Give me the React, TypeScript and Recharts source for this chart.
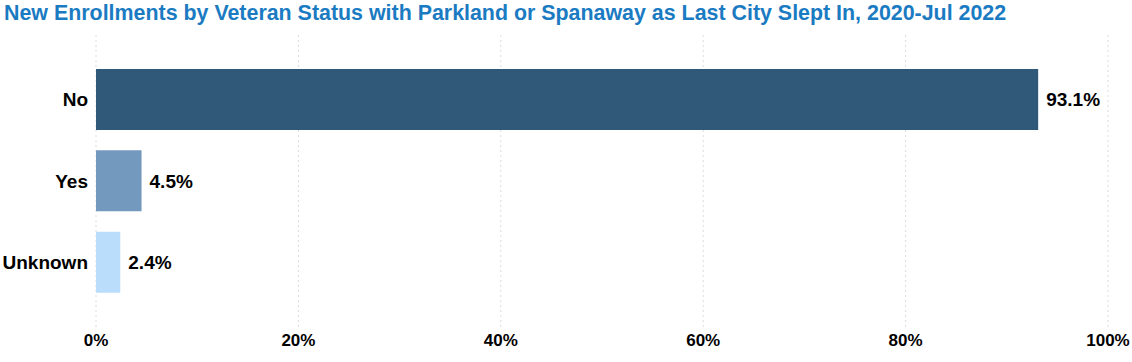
import React from 'react';
import { BarChart, Bar, XAxis, YAxis, CartesianGrid, Cell, LabelList } from 'recharts';

const categories = ['No', 'Yes', 'Unknown'];
const shares = [0.931, 0.045, 0.024];
const barColors = ['#305879', '#7399be', '#b9ddfb'];
const xTicks = [0, 0.2, 0.4, 0.6, 0.8, 1];
const title = 'New Enrollments by Veteran Status with Parkland or Spanaway as Last City Slept In, 2020-Jul 2022';

const data = categories.map((c, i) => ({ category: c, value: shares[i] }));

const FONT = '"Liberation Sans", Arial, sans-serif';

export default function App() {
  return (
    <div style={{ position: 'absolute', left: 0, top: 0, width: 1132, height: 362, background: '#fff', fontFamily: FONT }}>
      <div style={{ position: 'absolute', left: 4, top: 1, fontSize: 21.4, fontWeight: 'bold', color: '#1b7bc2', whiteSpace: 'nowrap', lineHeight: '24px' }}>
        {title}
      </div>
      <BarChart
        width={1132}
        height={362}
        data={data}
        layout="vertical"
        margin={{ top: 35, right: 24, bottom: 0, left: 0 }}
        barSize={61}
      >
        <CartesianGrid horizontal={false} stroke="#dcdcdc" strokeDasharray="2 3" />
        <XAxis
          type="number"
          domain={[0, 1]}
          ticks={xTicks}
          tickFormatter={(v: number) => `${Math.round(v * 100)}%`}
          axisLine={false}
          tickLine={false}
          tickSize={0}
          tickMargin={7}
          height={35}
          tick={{ fill: '#000', fontSize: 17, fontWeight: 'bold', fontFamily: FONT }}
          interval={0}
        />
        <YAxis
          type="category"
          dataKey="category"
          axisLine={false}
          tickLine={false}
          tickSize={0}
          tickMargin={8}
          width={96}
          padding={{ top: 24, bottom: 24 }}
          tick={{ fill: '#000', fontSize: 19, fontWeight: 'bold', fontFamily: FONT }}
        />
        <Bar dataKey="value" isAnimationActive={false}>
          {data.map((d, i) => (
            <Cell key={d.category} fill={barColors[i]} />
          ))}
          <LabelList
            dataKey="value"
            position="right"
            offset={8}
            formatter={(v: number) => `${(v * 100).toFixed(1)}%`}
            style={{ fill: '#000', fontSize: 19, fontWeight: 'bold', fontFamily: FONT }}
          />
        </Bar>
      </BarChart>
    </div>
  );
}
